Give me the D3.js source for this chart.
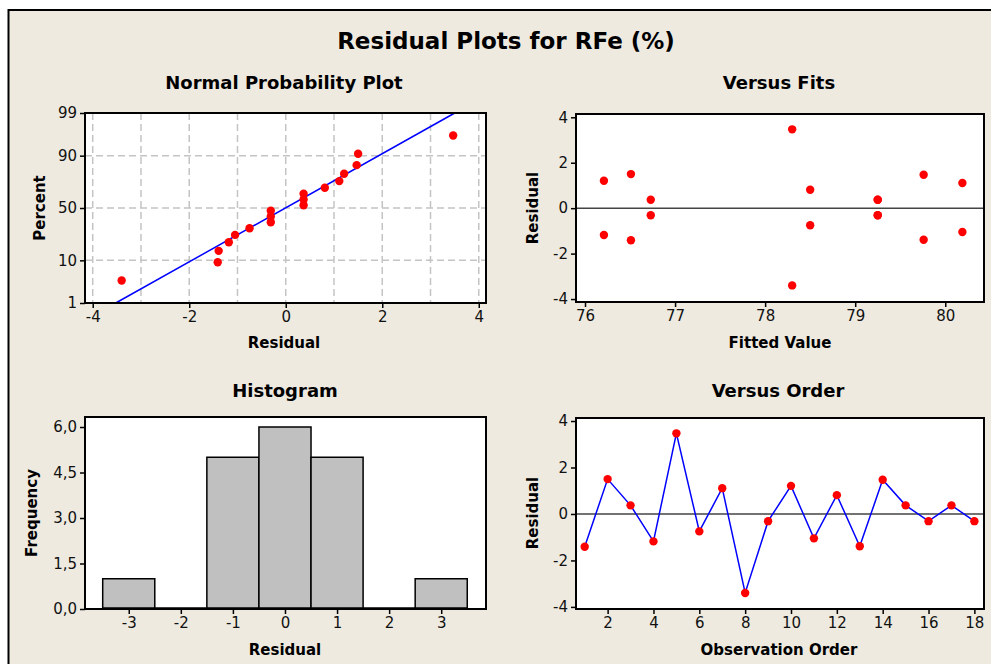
<!DOCTYPE html>
<html>
<head>
<meta charset="utf-8">
<script src="https://cdn.jsdelivr.net/npm/d3@7"></script>
<style>
  body { margin: 0; background: #fff; }
  svg { display: block; font-family: "DejaVu Sans", sans-serif; }
</style>
</head>
<body>
<div id="wrapper"></div>
<script>
// residuals in observation order, and the fitted value of each observation
const residuals = [-1.41, 1.50, 0.37, -1.18, 3.47, -0.75, 1.11, -3.40, -0.31,
                   1.21, -1.05, 0.81, -1.39, 1.47, 0.37, -0.31, 0.37, -0.31]
const fitted = [76.51, 76.51, 76.73, 76.21, 78.30, 78.50, 80.19, 78.30, 76.73,
                76.21, 80.19, 78.50, 79.76, 79.76, 79.25, 79.25, 79.25, 79.25]
const observation = d3.range(1, residuals.length + 1)

// percent plotted for each sorted residual on the normal probability plot
const nppPercent = [3.8, 9.2, 14.7, 20.1, 25.5, 31.0, 36.4, 41.8, 47.3,
                    52.7, 58.2, 63.6, 69.0, 74.5, 79.9, 85.3, 90.8, 96.2]
const nppLine = { mean: -0.01, sd: 1.51 }
const nppPctTicks = [1, 10, 50, 90, 99]
const nppXTicks = [-4, -2, 0, 2, 4]
const nppGridX = [-4, -3, -2, -1, 0, 1, 2, 3, 4]
const nppGridPct = [10, 50, 90]

// histogram
const binCenters = [-3, -2, -1, 0, 1, 2, 3]
const binCounts = [1, 0, 5, 6, 5, 0, 1]
const histYTicks = [0, 1.5, 3, 4.5, 6]

const fitsXTicks = [76, 77, 78, 79, 80]
const residTicks = [-4, -2, 0, 2, 4]
const orderXTicks = [2, 4, 6, 8, 10, 12, 14, 16, 18]

// inverse normal cdf (Acklam) for the probability axis
function probit(p) {
  const a = [-39.69683028665376, 220.9460984245205, -275.9285104469687, 138.3577518672690, -30.66479806614716, 2.506628277459239]
  const b = [-54.47609879822406, 161.5858368580409, -155.6989798598866, 66.80131188771972, -13.28068155288572]
  const c = [-0.007784894002430293, -0.3223964580411365, -2.400758277161838, -2.549732539343734, 4.374664141464968, 2.938163982698783]
  const d = [0.007784695709041462, 0.3224671290700398, 2.445134137142996, 3.754408661907416]
  const pl = 0.02425
  let q, r
  if (p < pl) {
    q = Math.sqrt(-2 * Math.log(p))
    return (((((c[0]*q+c[1])*q+c[2])*q+c[3])*q+c[4])*q+c[5]) / ((((d[0]*q+d[1])*q+d[2])*q+d[3])*q+1)
  }
  if (p <= 1 - pl) {
    q = p - 0.5; r = q * q
    return (((((a[0]*r+a[1])*r+a[2])*r+a[3])*r+a[4])*r+a[5])*q / (((((b[0]*r+b[1])*r+b[2])*r+b[3])*r+b[4])*r+1)
  }
  q = Math.sqrt(-2 * Math.log(1 - p))
  return -(((((c[0]*q+c[1])*q+c[2])*q+c[3])*q+c[4])*q+c[5]) / ((((d[0]*q+d[1])*q+d[2])*q+d[3])*q+1)
}

const width = 991, height = 664
const svg = d3.select("#wrapper").append("svg")
    .attr("width", width)
    .attr("height", height)

// page background and frame
svg.append("rect").attr("width", width).attr("height", height).attr("fill", "#fff")
svg.append("rect")
    .attr("x", 8.5).attr("y", 10)
    .attr("width", width + 20).attr("height", height + 20)
    .attr("fill", "#eeeae0")
    .attr("stroke", "#000").attr("stroke-width", 2)

svg.append("text")
    .attr("x", 506).attr("y", 49)
    .attr("text-anchor", "middle")
    .attr("font-size", 23).attr("font-weight", "bold")
    .text("Residual Plots for RFe (%)")

const boxes = {
  npp:   { x0: 85,  x1: 486, y0: 113, y1: 303 },
  fits:  { x0: 576, x1: 984, y0: 114, y1: 302 },
  hist:  { x0: 85,  x1: 486, y0: 417, y1: 609 },
  order: { x0: 576, x1: 984, y0: 418, y1: 609 },
}

function panelBg(b) {
  svg.append("rect")
      .attr("x", b.x0).attr("y", b.y0)
      .attr("width", b.x1 - b.x0).attr("height", b.y1 - b.y0)
      .attr("fill", "#fff")
}
function panelBorder(b) {
  svg.append("rect")
      .attr("x", b.x0).attr("y", b.y0)
      .attr("width", b.x1 - b.x0).attr("height", b.y1 - b.y0)
      .attr("fill", "none")
      .attr("stroke", "#000").attr("stroke-width", 2)
}
const plain = d => String(d)
function styleAxis(g) {
  g.attr("font-size", null).attr("font-family", null)
  g.select(".domain").remove()
  g.selectAll(".tick line").attr("stroke", "#000").attr("stroke-width", 1.5)
  g.selectAll(".tick text")
      .style("font-size", "15px")
      .style("font-family", "'DejaVu Sans', sans-serif")
      .attr("fill", "#111")
}
function title(x, y, s) {
  svg.append("text")
      .attr("x", x).attr("y", y)
      .attr("text-anchor", "middle")
      .attr("font-size", 18).attr("font-weight", "bold")
      .text(s)
}
function xLabel(x, y, s) {
  svg.append("text")
      .attr("x", x).attr("y", y)
      .attr("text-anchor", "middle")
      .attr("font-size", 15).attr("font-weight", "bold")
      .text(s)
}
function yLabel(x, y, s) {
  svg.append("text")
      .attr("transform", `translate(${x},${y}) rotate(-90)`)
      .attr("text-anchor", "middle")
      .attr("font-size", 15).attr("font-weight", "bold")
      .text(s)
}
const dashGrid = g => g.attr("stroke", "#c4c4c4").attr("stroke-width", 1.5).attr("stroke-dasharray", "7,4")

// 1. Normal probability plot
{
  const b = boxes.npp
  const xScale = d3.scaleLinear().domain([-4.16, 4.15]).range([b.x0, b.x1])
  const zScale = d3.scaleLinear().domain([probit(0.01), probit(0.99)]).range([b.y1, b.y0])
  const yOf = pct => zScale(probit(pct / 100))

  panelBg(b)
  svg.append("g").selectAll("line").data(nppGridX).join("line")
      .attr("x1", d => xScale(d)).attr("x2", d => xScale(d))
      .attr("y1", b.y0).attr("y2", b.y1)
      .call(dashGrid)
  svg.append("g").selectAll("line").data(nppGridPct).join("line")
      .attr("x1", b.x0).attr("x2", b.x1)
      .attr("y1", d => yOf(d)).attr("y2", d => yOf(d))
      .call(dashGrid)

  const zLo = probit(0.01), zHi = probit(0.99)
  svg.append("line")
      .attr("x1", xScale(nppLine.mean + nppLine.sd * zLo)).attr("y1", zScale(zLo))
      .attr("x2", xScale(nppLine.mean + nppLine.sd * zHi)).attr("y2", zScale(zHi))
      .attr("stroke", "#0000ff").attr("stroke-width", 1.5)

  const sorted = residuals.slice().sort(d3.ascending)
  svg.append("g").selectAll("circle").data(sorted).join("circle")
      .attr("cx", d => xScale(d))
      .attr("cy", (d, i) => yOf(nppPercent[i]))
      .attr("r", 4.2)
      .attr("fill", "#ff0000")

  panelBorder(b)
  svg.append("g")
      .attr("transform", `translate(0,${b.y1})`)
      .call(d3.axisBottom(xScale).tickValues(nppXTicks).tickFormat(plain).tickSize(5).tickPadding(3))
      .call(styleAxis)
  svg.append("g")
      .attr("transform", `translate(${b.x0},0)`)
      .call(d3.axisLeft(zScale)
        .tickValues(nppPctTicks.map(p => probit(p / 100)))
        .tickFormat((d, i) => nppPctTicks[i])
        .tickSize(5).tickPadding(3))
      .call(styleAxis)

  title(284, 89, "Normal Probability Plot")
  xLabel(284, 348, "Residual")
  yLabel(45, 208, "Percent")
}

// 2. Versus fits
{
  const b = boxes.fits
  const xScale = d3.scaleLinear().domain([75.90, 80.43]).range([b.x0, b.x1])
  const yScale = d3.scaleLinear().domain([-4.13, 4.145]).range([b.y1, b.y0])

  panelBg(b)
  svg.append("line")
      .attr("x1", b.x0).attr("x2", b.x1)
      .attr("y1", yScale(0)).attr("y2", yScale(0))
      .attr("stroke", "#444").attr("stroke-width", 1.5)

  svg.append("g").selectAll("circle").data(residuals).join("circle")
      .attr("cx", (d, i) => xScale(fitted[i]))
      .attr("cy", d => yScale(d))
      .attr("r", 4.2)
      .attr("fill", "#ff0000")

  panelBorder(b)
  svg.append("g")
      .attr("transform", `translate(0,${b.y1})`)
      .call(d3.axisBottom(xScale).tickValues(fitsXTicks).tickFormat(plain).tickSize(5).tickPadding(3))
      .call(styleAxis)
  svg.append("g")
      .attr("transform", `translate(${b.x0},0)`)
      .call(d3.axisLeft(yScale).tickValues(residTicks).tickFormat(plain).tickSize(5).tickPadding(3))
      .call(styleAxis)

  title(779, 89, "Versus Fits")
  xLabel(780, 348, "Fitted Value")
  yLabel(538, 208, "Residual")
}

// 3. Histogram
{
  const b = boxes.hist
  const xScale = d3.scaleLinear().domain([-3.84, 3.86]).range([b.x0, b.x1])
  const yScale = d3.scaleLinear().domain([0, 6.33]).range([b.y1, b.y0])

  panelBg(b)
  svg.append("g").selectAll("path").data(binCenters).join("path")
      .attr("d", (d, i) => {
        const x0 = xScale(d - 0.5), x1 = xScale(d + 0.5)
        const y0 = yScale(0) - 1, y1 = Math.min(yScale(binCounts[i]), y0)
        return `M${x0},${y0}V${y1}H${x1}V${y0}Z`
      })
      .attr("fill", "#c0c0c0")
      .attr("stroke", "#000").attr("stroke-width", 1.5)

  panelBorder(b)
  const comma = d => d3.format(".1f")(d).replace(".", ",")
  svg.append("g")
      .attr("transform", `translate(0,${b.y1})`)
      .call(d3.axisBottom(xScale).tickValues(binCenters).tickFormat(plain).tickSize(5).tickPadding(3))
      .call(styleAxis)
  svg.append("g")
      .attr("transform", `translate(${b.x0},0)`)
      .call(d3.axisLeft(yScale).tickValues(histYTicks).tickFormat(comma).tickSize(5).tickPadding(3))
      .call(styleAxis)

  title(285, 397, "Histogram")
  xLabel(285, 655, "Residual")
  yLabel(37, 513, "Frequency")
}

// 4. Versus order
{
  const b = boxes.order
  const xScale = d3.scaleLinear().domain([0.62, 18.42]).range([b.x0, b.x1])
  const yScale = d3.scaleLinear().domain([-4.09, 4.13]).range([b.y1, b.y0])

  panelBg(b)
  svg.append("line")
      .attr("x1", b.x0).attr("x2", b.x1)
      .attr("y1", yScale(0)).attr("y2", yScale(0))
      .attr("stroke", "#444").attr("stroke-width", 1.5)

  const lineGenerator = d3.line()
      .x((d, i) => xScale(observation[i]))
      .y(d => yScale(d))
  svg.append("path")
      .attr("d", lineGenerator(residuals))
      .attr("fill", "none")
      .attr("stroke", "#0000ff").attr("stroke-width", 1.5)

  svg.append("g").selectAll("circle").data(residuals).join("circle")
      .attr("cx", (d, i) => xScale(observation[i]))
      .attr("cy", d => yScale(d))
      .attr("r", 4.2)
      .attr("fill", "#ff0000")

  panelBorder(b)
  svg.append("g")
      .attr("transform", `translate(0,${b.y1})`)
      .call(d3.axisBottom(xScale).tickValues(orderXTicks).tickFormat(plain).tickSize(5).tickPadding(3))
      .call(styleAxis)
  svg.append("g")
      .attr("transform", `translate(${b.x0},0)`)
      .call(d3.axisLeft(yScale).tickValues(residTicks).tickFormat(plain).tickSize(5).tickPadding(3))
      .call(styleAxis)

  title(778, 397, "Versus Order")
  xLabel(779, 655, "Observation Order")
  yLabel(538, 513, "Residual")
}
</script>
</body>
</html>
